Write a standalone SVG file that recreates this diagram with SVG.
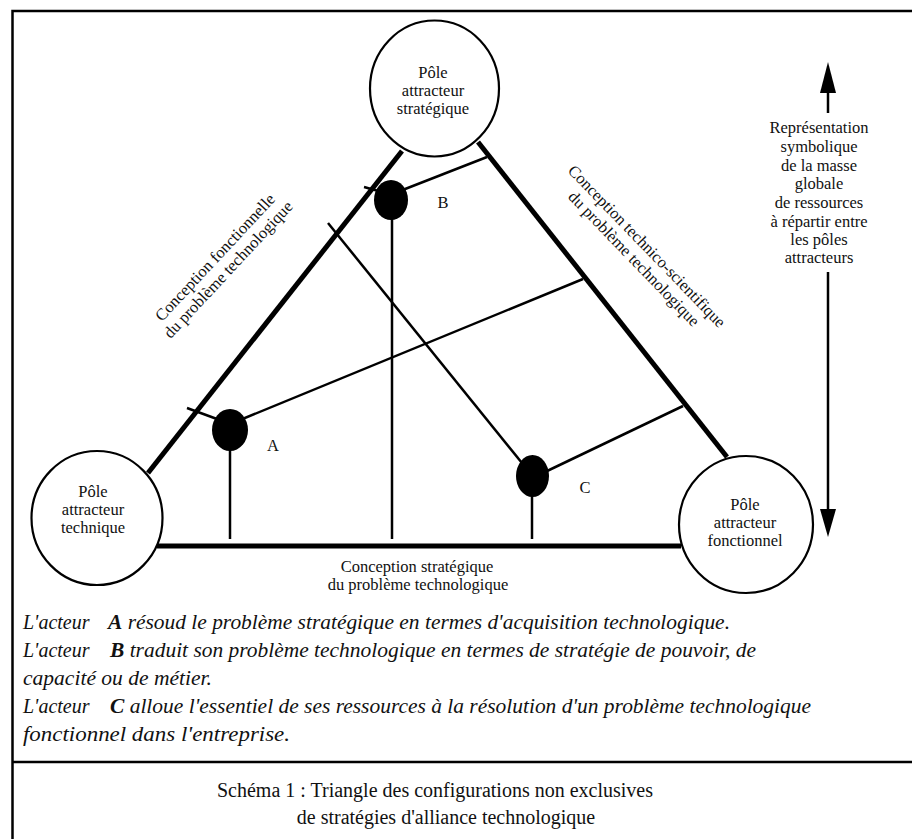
<svg xmlns="http://www.w3.org/2000/svg" width="912" height="839" viewBox="0 0 912 839">
<style>
.bg{fill:#fff}
.frame{fill:none;stroke:#000;stroke-width:2.5}
.pole{fill:#fff;stroke:#000;stroke-width:2.2}
.edge{stroke:#000;stroke-width:5;fill:none}
.thin{stroke:#000;stroke-width:2.5;fill:none}
.dot{fill:#000}
.arrowhead{fill:#000}
.t{font-family:"Liberation Serif","Times New Roman",serif;font-size:16.5px;fill:#111;text-anchor:middle}
.it{font-family:"Liberation Serif","Times New Roman",serif;font-size:20px;font-style:italic;fill:#111}
.bi{font-weight:bold}
.cap{font-family:"Liberation Serif","Times New Roman",serif;font-size:20px;fill:#111;text-anchor:middle}
</style>
<rect class="bg" x="0" y="0" width="912" height="839"/>
<rect class="frame" x="12.5" y="11" width="920" height="840"/>
<line class="frame" x1="12" y1="762" x2="912" y2="762"/>

<g id="connectors">
  <line class="edge" x1="148" y1="473" x2="402" y2="151"/>
  <line class="edge" x1="478" y1="142" x2="727" y2="457"/>
  <line class="edge" x1="157" y1="546" x2="681" y2="546"/>
  <line class="thin" x1="392" y1="215" x2="392" y2="539"/>
  <line class="thin" x1="400" y1="191" x2="487" y2="157"/>
  <line class="thin" x1="364" y1="187" x2="382" y2="192"/>
  <line class="thin" x1="328" y1="223" x2="522" y2="463"/>
  <line class="thin" x1="545" y1="472" x2="683" y2="406"/>
  <line class="thin" x1="532" y1="490" x2="532" y2="539"/>
  <line class="thin" x1="240" y1="420" x2="583" y2="279"/>
  <line class="thin" x1="187" y1="408" x2="217" y2="419"/>
  <line class="thin" x1="230" y1="445" x2="230" y2="539"/>
</g>

<g id="pole-strategique">
  <ellipse class="pole" cx="434.5" cy="88.5" rx="64.5" ry="68"/>
  <text class="t" x="433" y="78">Pôle</text>
  <text class="t" x="433" y="96">attracteur</text>
  <text class="t" x="433" y="114">stratégique</text>
</g>
<g id="pole-technique">
  <ellipse class="pole" cx="97" cy="518" rx="65.5" ry="67"/>
  <text class="t" x="93" y="497">Pôle</text>
  <text class="t" x="93" y="515">attracteur</text>
  <text class="t" x="93" y="533">technique</text>
</g>
<g id="pole-fonctionnel">
  <ellipse class="pole" cx="746" cy="524.5" rx="67" ry="68.5"/>
  <text class="t" x="745" y="510">Pôle</text>
  <text class="t" x="745" y="528">attracteur</text>
  <text class="t" x="745" y="546">fonctionnel</text>
</g>

<g id="actor-A">
  <ellipse class="dot" cx="230" cy="430" rx="18" ry="21"/>
  <text class="t" x="273" y="451">A</text>
</g>
<g id="actor-B">
  <ellipse class="dot" cx="391" cy="200" rx="17" ry="20"/>
  <text class="t" x="443" y="208">B</text>
</g>
<g id="actor-C">
  <ellipse class="dot" cx="532.5" cy="476" rx="16.5" ry="21"/>
  <text class="t" x="585" y="493">C</text>
</g>

<g id="label-fonctionnelle" transform="translate(219,261) rotate(-47)">
  <text class="t" x="0" y="0">Conception fonctionnelle</text>
  <text class="t" x="0" y="18">du problème technologique</text>
</g>
<g id="label-technico" transform="translate(643,250) rotate(46)">
  <text class="t" x="0" y="0">Conception technico-scientifique</text>
  <text class="t" x="0" y="18">du problème technologique</text>
</g>
<g id="label-strategique">
  <text class="t" x="417" y="572">Conception stratégique</text>
  <text class="t" x="418" y="590">du problème technologique</text>
</g>

<g id="resources-arrow">
  <line class="thin" x1="828" y1="90" x2="828" y2="113"/>
  <polygon class="arrowhead" points="828,62 820,93 836,93"/>
  <line class="thin" x1="828" y1="272" x2="828" y2="512"/>
  <polygon class="arrowhead" points="820,509 836,509 828,537"/>
  <text class="t" x="819" y="133">Représentation</text>
  <text class="t" x="819" y="152">symbolique</text>
  <text class="t" x="819" y="171">de la masse</text>
  <text class="t" x="819" y="189">globale</text>
  <text class="t" x="819" y="208">de ressources</text>
  <text class="t" x="819" y="227">à répartir entre</text>
  <text class="t" x="819" y="245">les pôles</text>
  <text class="t" x="819" y="263">attracteurs</text>
</g>

<g id="legend">
  <text class="it" x="23" y="629">L'acteur</text>
  <text class="it" x="108" y="629" textLength="622" lengthAdjust="spacingAndGlyphs"><tspan class="bi">A</tspan> résoud le problème stratégique en termes d'acquisition technologique.</text>
  <text class="it" x="23" y="657">L'acteur</text>
  <text class="it" x="110" y="657" textLength="646" lengthAdjust="spacingAndGlyphs"><tspan class="bi">B</tspan> traduit son problème technologique en termes de stratégie de pouvoir, de</text>
  <text class="it" x="23" y="685" textLength="189" lengthAdjust="spacingAndGlyphs">capacité ou de métier.</text>
  <text class="it" x="23" y="713">L'acteur</text>
  <text class="it" x="110" y="713" textLength="701" lengthAdjust="spacingAndGlyphs"><tspan class="bi">C</tspan> alloue l'essentiel de ses ressources à la résolution d'un problème technologique</text>
  <text class="it" x="23" y="741" textLength="267" lengthAdjust="spacingAndGlyphs">fonctionnel dans l'entreprise.</text>
</g>

<g id="caption">
  <text class="cap" x="435" y="797">Schéma 1 : Triangle des configurations non exclusives</text>
  <text class="cap" x="446" y="824">de stratégies d'alliance technologique</text>
</g>
</svg>
